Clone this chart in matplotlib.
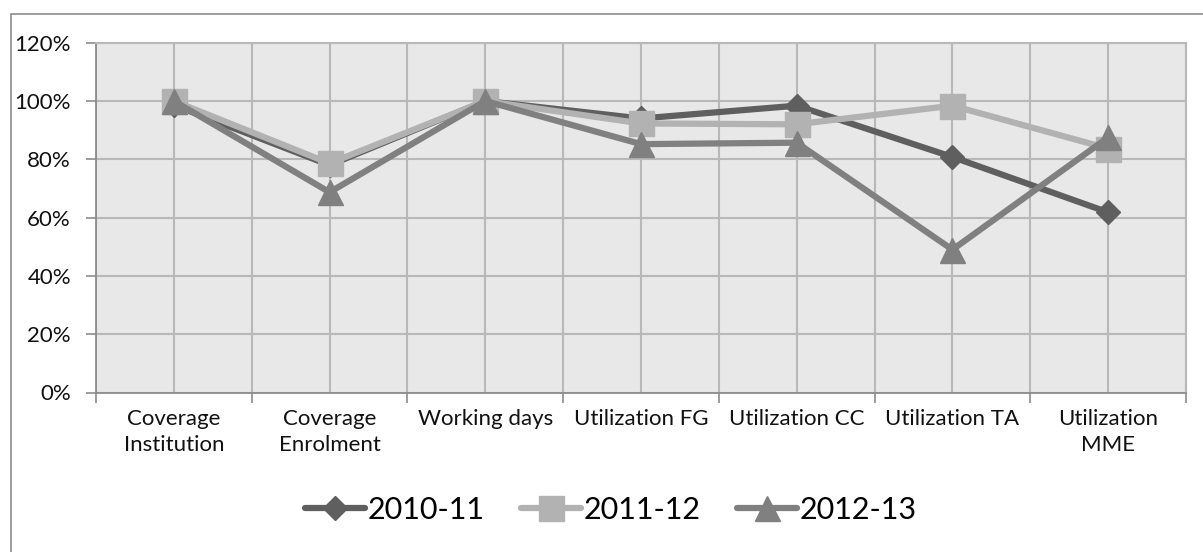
import matplotlib
matplotlib.use("Agg")
import matplotlib.pyplot as plt
from matplotlib.patches import Rectangle
from matplotlib.ticker import FixedLocator, PercentFormatter

categories = ["Coverage\nInstitution", "Coverage\nEnrolment", "Working days",
              "Utilization FG", "Utilization CC", "Utilization TA", "Utilization\nMME"]
s2010 = [98.6, 78, 100, 94, 98.4, 80.8, 61.8]
s2011 = [100, 78.6, 100, 92.3, 92, 98.4, 83.7]
s2012 = [100, 68.7, 100, 85.2, 85.7, 49, 87.5]
series_names = ["2010-11", "2011-12", "2012-13"]

plt.rcParams['font.family'] = ['Lato', 'DejaVu Sans']

W, H = 1203, 552
fig = plt.figure(figsize=(W / 100, H / 100), dpi=100)
fig.patches.append(Rectangle((11 / W, -0.05), 1.2, 1 - 14 / H + 0.05,
                             transform=fig.transFigure, fill=False,
                             edgecolor='#8c8c8c', linewidth=1.2, zorder=0))
left, right, top, bottom = 96, 1186, 42.7, 392.5
ax = fig.add_axes([left / W, 1 - bottom / H, (right - left) / W, (bottom - top) / H])
ax.set_facecolor('#e8e8e8')

x = list(range(len(categories)))
styles = [
    (s2010, '#5f5f5f', 'D', 12.7),
    (s2011, '#b2b2b2', 's', 18),
    (s2012, '#808080', '^', 18),
]
for (vals, col, mk, ms), name in zip(styles, series_names):
    ax.plot(x, vals, color=col, linewidth=4.5, marker=mk, markersize=ms,
            markeredgecolor=col, markerfacecolor=col, label=name,
            solid_joinstyle='round', solid_capstyle='round', zorder=3)

ax.set_xlim(-0.5, len(categories) - 0.5)
ax.set_ylim(0, 120)
ax.set_yticks(range(0, 121, 20))
ax.yaxis.set_major_formatter(PercentFormatter(decimals=0))
ax.set_xticks(x)
ax.set_xticklabels(categories, fontsize=16, color='#111111', linespacing=1.38)
ax.xaxis.set_minor_locator(FixedLocator([i - 0.5 for i in range(len(categories) + 1)]))
ax.tick_params(axis='x', which='major', length=0, pad=12)
ax.tick_params(axis='x', which='minor', length=7, color='#8c8c8c', width=1.2)
ax.tick_params(axis='y', length=7, color='#8c8c8c', width=1.2, labelsize=16,
               labelcolor='#111111', pad=11)
ax.grid(True, which='both', color='#b8b8b8', linewidth=1.5, zorder=1)
ax.set_axisbelow(True)
for side in ['top', 'right']:
    ax.spines[side].set_color('#b8b8b8')
    ax.spines[side].set_linewidth(1.5)
for side in ['left', 'bottom']:
    ax.spines[side].set_color('#8c8c8c')
    ax.spines[side].set_linewidth(1.3)

fig.legend(loc='center', bbox_to_anchor=(611 / W, 1 - 510 / H), ncol=3,
           frameon=False, fontsize=22, handlelength=1.97, handletextpad=0.07,
           columnspacing=1.2, markerscale=1.0)

fig.savefig('out.png', dpi=100)
